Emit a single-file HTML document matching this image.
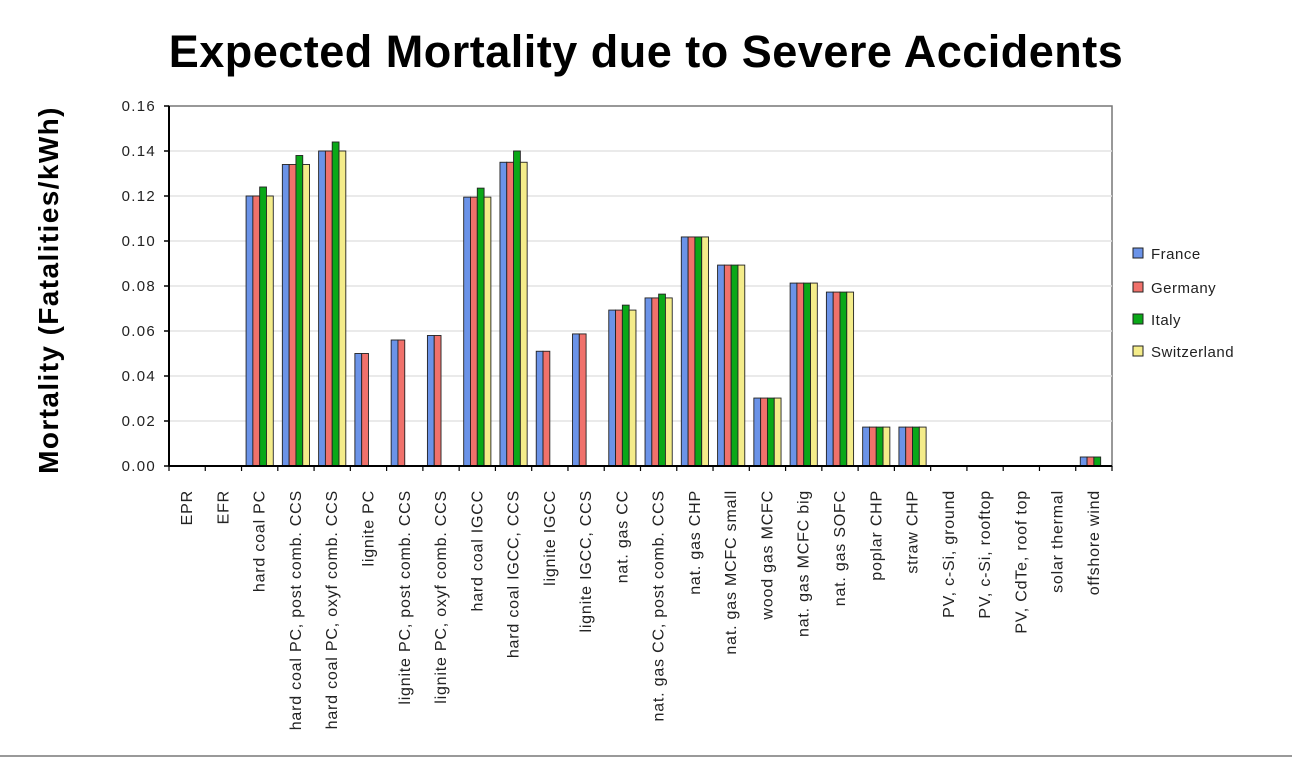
<!DOCTYPE html>
<html><head><meta charset="utf-8"><style>
html,body{margin:0;padding:0;background:#fff;width:1292px;height:760px;overflow:hidden}
text{font-family:"Liberation Sans",sans-serif}
</style></head><body>
<svg id="chart" width="1292" height="760" xmlns="http://www.w3.org/2000/svg">
<text x="646" y="67" text-anchor="middle" font-size="45" font-weight="bold" letter-spacing="0.5" fill="#000">Expected Mortality due to Severe Accidents</text>
<text transform="translate(58,290) rotate(-90)" text-anchor="middle" font-size="28" font-weight="bold" letter-spacing="1.4" fill="#000">Mortality (Fatalities/kWh)</text>
<g id="grid"></g><g id="bars"></g><g id="axes"></g><g id="legend"></g>
<line x1="0" y1="756" x2="1292" y2="756" stroke="#999" stroke-width="2"/>
</svg>
<script>
const categories=["EPR","EFR","hard coal PC","hard coal PC, post comb. CCS","hard coal PC, oxyf comb. CCS","lignite PC","lignite PC, post comb. CCS","lignite PC, oxyf comb. CCS","hard coal IGCC","hard coal IGCC, CCS","lignite IGCC","lignite IGCC, CCS","nat. gas CC","nat. gas CC, post comb. CCS","nat. gas CHP","nat. gas MCFC small","wood gas MCFC","nat. gas MCFC big","nat. gas SOFC","poplar CHP","straw CHP","PV, c-Si, ground","PV, c-Si, rooftop","PV, CdTe, roof top","solar thermal","offshore wind"];
const seriesNames=["France","Germany","Italy","Switzerland"];
const france=[0,0,0.120,0.134,0.140,0.050,0.056,0.058,0.1195,0.135,0.051,0.0587,0.0693,0.0747,0.1018,0.0893,0.0302,0.0813,0.0773,0.0173,0.0173,0,0,0,0,0.004];
const germany=[0,0,0.120,0.134,0.140,0.050,0.056,0.058,0.1195,0.135,0.051,0.0587,0.0693,0.0747,0.1018,0.0893,0.0302,0.0813,0.0773,0.0173,0.0173,0,0,0,0,0.004];
const italy=[0,0,0.124,0.138,0.144,0,0,0,0.1235,0.140,0,0,0.0715,0.0764,0.1018,0.0893,0.0302,0.0813,0.0773,0.0173,0.0173,0,0,0,0,0.004];
const switzerland=[0,0,0.120,0.134,0.140,0,0,0,0.1195,0.135,0,0,0.0693,0.0747,0.1018,0.0893,0.0302,0.0813,0.0773,0.0173,0.0173,0,0,0,0,0];
const yTicks=["0.00","0.02","0.04","0.06","0.08","0.10","0.12","0.14","0.16"];
const colors=["#6b93e8","#f0716b","#0aa818","#f4ec8a"];
const NS="http://www.w3.org/2000/svg";
const X0=169,X1=1112,Y0=466,Y1=106,YMAX=0.16;
const cw=(X1-X0)/categories.length;
function yScale(v){return Y0-(v/YMAX)*(Y0-Y1);}
function xBand(i){return X0+i*cw;}
function mk(tag,attrs,parent){const e=document.createElementNS(NS,tag);for(const k in attrs)e.setAttribute(k,attrs[k]);parent.appendChild(e);return e;}
const grid=document.getElementById('grid'),bars=document.getElementById('bars'),axes=document.getElementById('axes'),legend=document.getElementById('legend');
mk('rect',{x:X0,y:Y1,width:X1-X0,height:Y0-Y1,fill:'#fff',stroke:'#777','stroke-width':1.5},grid);
yTicks.forEach((t,i)=>{const v=parseFloat(t);const y=yScale(v);
 if(v>0&&v<YMAX){const l=mk('line',{x1:X0,x2:X1,y1:y,y2:y,stroke:'#e4e4e4','stroke-width':1.5},grid);
 
 }
 mk('line',{x1:X0-5,x2:X0,y1:y,y2:y,stroke:'#000','stroke-width':1.5},axes);
 const tx=mk('text',{x:X0-13,y:y+5,'text-anchor':'end','font-size':15,'letter-spacing':1.3,fill:'#222'},axes);tx.textContent=t;
 
 
});
const series=[france,germany,italy,switzerland];
const bw=6.8,gw=bw*4;
categories.forEach((c,i)=>{
 const gx=xBand(i)+(cw-gw)/2;
 series.forEach((s,j)=>{const v=s[i];if(!(v>0))return;const y=yScale(v);
  const r=mk('rect',{x:gx+j*bw,y:y,width:bw,height:Y0-y,fill:colors[j],stroke:'#222','stroke-width':0.9},bars);
  
  
 });
 mk('line',{x1:xBand(i),x2:xBand(i),y1:Y0,y2:Y0+5,stroke:'#000','stroke-width':1.2},axes);
 const cx=xBand(i)+cw/2+5;
 const tx=mk('text',{transform:'translate('+cx+',490) rotate(-90)','text-anchor':'end','font-size':16,'letter-spacing':0.8,fill:'#222'},axes);tx.textContent=c;
 
 
});
mk('line',{x1:X1,x2:X1,y1:Y0,y2:Y0+5,stroke:'#000','stroke-width':1.2},axes);
mk('line',{x1:X0,x2:X0,y1:Y1,y2:Y0,stroke:'#000','stroke-width':2},axes);
mk('line',{x1:X0,x2:X1,y1:Y0,y2:Y0,stroke:'#000','stroke-width':2},axes);
const ly=[254,288,320,352];
seriesNames.forEach((n,j)=>{
 const r=mk('rect',{x:1133,y:ly[j]-6,width:10,height:10,fill:colors[j],stroke:'#222','stroke-width':1},legend);
 
 
 const t=mk('text',{x:1151,y:ly[j]+5,'font-size':15,'letter-spacing':0.5,fill:'#222'},legend);t.textContent=n;
 
 
});
</script>
</body></html>
